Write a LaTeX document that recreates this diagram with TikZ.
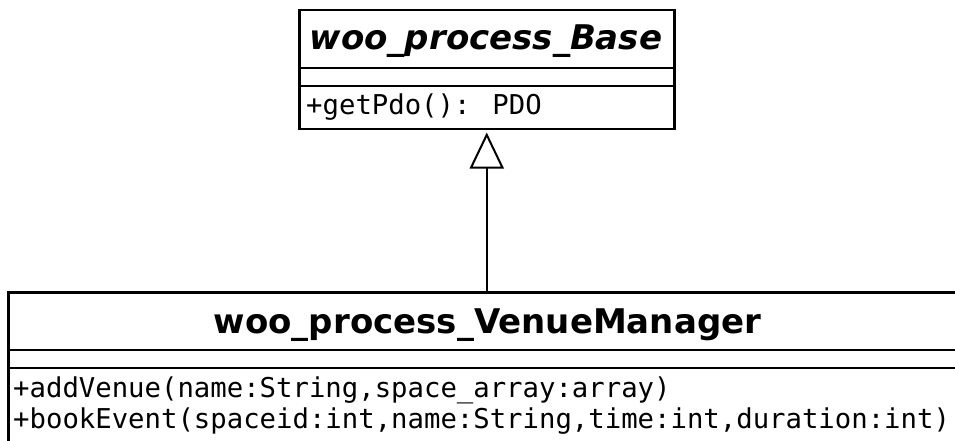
\documentclass[tikz,border=0pt]{standalone}
\usepackage{fontspec}
\setmainfont{DejaVu Sans}
\newfontfamily\umlmono{DejaVu Sans Mono}
\usetikzlibrary{arrows.meta}
\begin{document}
\begin{tikzpicture}[x=1pt,y=-1pt,
  classbox/.style={draw=black,line width=2.5pt,rectangle,anchor=north west,inner sep=0pt},
  sepline/.style={line width=2.5pt},
  titletext/.style={inner sep=0pt,anchor=base,font=\fontsize{34}{40}\selectfont\bfseries},
  opstext/.style={inner sep=0pt,anchor=base west,align=left,font=\umlmono\fontsize{27.3}{32}\selectfont},
  inherit/.style={line width=2pt,-{Triangle[open,length=36pt,width=34pt,line width=2pt]},shorten >=2pt}]
\useasboundingbox (0,0) rectangle (955,441);
\clip (0,0) rectangle (955,441);
% base class
\node[classbox,minimum width=375pt,minimum height=119pt] (base) at (298,9) {};
\node[titletext,font=\fontsize{34}{40}\selectfont\bfseries\itshape] (basetitle) at (486,50) {woo\_process\_Base};
\draw[sepline] (298,68) -- (673,68);
\draw[sepline] (298,86) -- (673,86);
\node[opstext] (baseops) at (306,115) {+getPdo(): PDO};
% venue manager
\node[classbox,minimum width=957pt,minimum height=170pt] (vm) at (7,291) {};
\node[titletext] (vmtitle) at (487.5,333) {woo\_process\_VenueManager};
\draw[sepline] (7,350) -- (970,350);
\draw[sepline] (7,368) -- (970,368);
\node[opstext] (vmops1) at (13,397) {+addVenue(name:String,space\_array:array)};
\node[opstext] (vmops2) at (13,428) {+bookEvent(spaceid:int,name:String,time:int,duration:int)};
% inheritance
\draw[inherit] (vm.north) -- (base.south);
\end{tikzpicture}
\end{document}
